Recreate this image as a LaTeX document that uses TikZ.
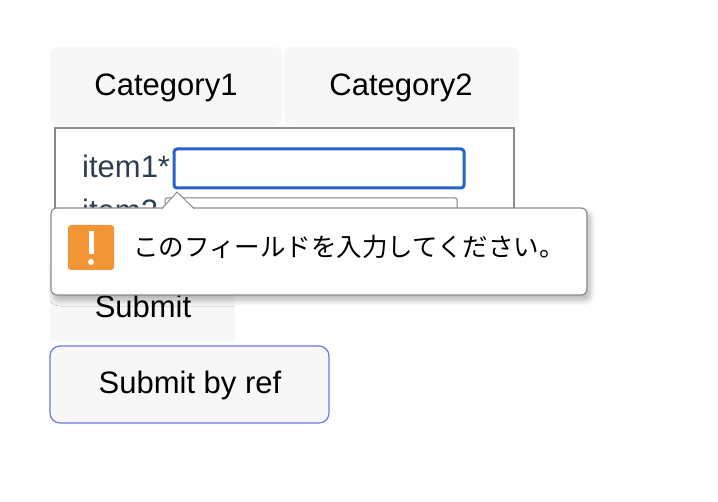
\documentclass[tikz,border=0pt]{standalone}
\usepackage{fontspec}
\setmainfont{Liberation Sans}
\newfontfamily\jp{Noto Sans CJK JP}
\usetikzlibrary{shadows.blur}
\definecolor{btn}{HTML}{F7F7F7}
\definecolor{lbl}{HTML}{2C3E50}
\definecolor{focus}{HTML}{2563C9}
\definecolor{refb}{HTML}{6B78E6}
\definecolor{warn}{HTML}{F19537}
\tikzset{
  tab/.style={fill=btn,rounded corners=8pt},
  lab/.style={inner sep=0pt,font=\fontsize{31}{34}\selectfont},
}
\begin{document}
\begin{tikzpicture}[x=1pt,y=-1pt]
\useasboundingbox (0,0) rectangle (718,502);
% tabs
\fill[tab] (50,47) rectangle (282,125);
\fill[tab] (284,47) rectangle (519,125);
\node[lab] (c1) at (166,88) {Category1};
\node[lab] (c2) at (401,88) {Category2};
% panel
\draw[line width=2pt,draw=gray!90] (55,128) rectangle (514,262);
\node[lab,anchor=base west,text=lbl] (i1) at (82,178) {item1*};
\draw[focus,line width=3pt,rounded corners=3pt,fill=white] (174,149) rectangle (464,188);
\node[lab,anchor=base west,text=lbl] (i2) at (82,222) {item2};
\draw[gray,line width=1pt,rounded corners=2pt,fill=white] (165,198) rectangle (457,236);
% submit
\fill[btn] (50,265) rectangle (235,341);
\node[lab] (s) at (143,306) {Submit};
\draw[refb,line width=1.2pt,rounded corners=10pt,fill=btn] (50,346) rectangle (329,423);
\node[lab] (sr) at (190,385) {Submit by ref};
% popup
\draw[gray!90,line width=1.2pt,rounded corners=6pt,fill=white,blur shadow={shadow blur steps=10,shadow blur radius=6pt,shadow xshift=3pt,shadow yshift=-5pt,shadow opacity=30}] (51,208) rectangle (587,295);
\fill[white] (162,209) -- (177,192) -- (194,209) -- cycle;
\draw[gray!90,line width=1pt] (162,208.6) -- (177,192) -- (194,208.6);
\fill[warn,rounded corners=3pt] (68,225) rectangle (114,270);
\fill[white] (88.5,231) rectangle (93.5,254);
\fill[white] (91,262) circle (3pt);
\node[inner sep=0pt,anchor=west,font=\jp\fontsize{25.5}{28}\selectfont] (msg) at (133,247) {このフィールドを入力してください。};
\end{tikzpicture}
\end{document}
